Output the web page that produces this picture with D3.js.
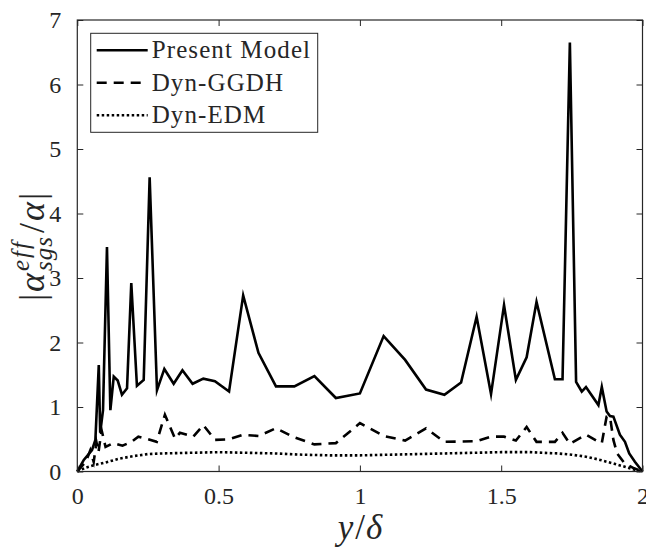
<!DOCTYPE html>
<html>
<head>
<meta charset="utf-8">
<script src="https://cdn.jsdelivr.net/npm/d3@7"></script>
<style>
  body { margin: 0; background: #fff; }
  svg { display: block; }
  text { font-family: "Liberation Serif", "DejaVu Serif", serif; fill: #262626; }
</style>
</head>
<body>
<div id="chart"></div>
<script>
// ── Data ─────────────────────────────────────────────────────
const presentX = [0, 0.023, 0.052, 0.064, 0.076, 0.081, 0.091, 0.105, 0.117, 0.129, 0.143, 0.158, 0.176, 0.191, 0.211, 0.235, 0.256, 0.282, 0.308, 0.341, 0.372, 0.408, 0.446, 0.487, 0.537, 0.587, 0.641, 0.703, 0.768, 0.839, 0.915, 1.0, 1.084, 1.16, 1.234, 1.299, 1.358, 1.413, 1.464, 1.51, 1.552, 1.59, 1.625, 1.69, 1.717, 1.743, 1.765, 1.785, 1.8, 1.844, 1.856, 1.873, 1.885, 1.897, 1.92, 1.938, 1.953, 1.973, 2.0];
const presentY = [0, 0.18, 0.33, 0.49, 1.65, 0.6, 0.95, 3.48, 0.95, 1.47, 1.41, 1.19, 1.29, 2.92, 1.33, 1.42, 4.56, 1.26, 1.59, 1.36, 1.57, 1.36, 1.44, 1.40, 1.24, 2.73, 1.84, 1.32, 1.32, 1.48, 1.14, 1.21, 2.10, 1.73, 1.27, 1.19, 1.38, 2.40, 1.20, 2.58, 1.42, 1.77, 2.63, 1.43, 1.43, 6.65, 1.39, 1.24, 1.31, 1.03, 1.31, 0.93, 0.86, 0.85, 0.57, 0.46, 0.28, 0.15, 0];

const ggdhX = [0, 0.03, 0.046, 0.058, 0.068, 0.075, 0.086, 0.1, 0.128, 0.16, 0.192, 0.216, 0.25, 0.281, 0.31, 0.346, 0.363, 0.41, 0.446, 0.487, 0.537, 0.587, 0.641, 0.703, 0.768, 0.839, 0.915, 1.0, 1.085, 1.16, 1.234, 1.299, 1.413, 1.464, 1.51, 1.552, 1.59, 1.625, 1.69, 1.717, 1.743, 1.8, 1.844, 1.856, 1.873, 1.885, 1.897, 1.91, 1.936, 1.97, 2.0];
const ggdhY = [0, 0.15, 0.33, 0.15, 0.45, 0.3, 0.64, 0.38, 0.44, 0.4, 0.46, 0.54, 0.5, 0.46, 0.88, 0.51, 0.6, 0.54, 0.72, 0.49, 0.5, 0.57, 0.55, 0.67, 0.53, 0.42, 0.44, 0.75, 0.55, 0.48, 0.67, 0.46, 0.47, 0.54, 0.54, 0.48, 0.69, 0.46, 0.46, 0.6, 0.43, 0.57, 0.46, 0.44, 0.85, 0.85, 0.49, 0.28, 0.13, 0.05, 0];

const edmX = [0, 0.03, 0.06, 0.1, 0.15, 0.2, 0.25, 0.3, 0.4, 0.5, 0.6, 0.7, 0.8, 0.9, 1.0, 1.1, 1.2, 1.3, 1.4, 1.5, 1.6, 1.7, 1.75, 1.8, 1.85, 1.9, 1.94, 1.97, 2.0];
const edmY = [0, 0.06, 0.1, 0.14, 0.2, 0.24, 0.27, 0.28, 0.29, 0.3, 0.29, 0.28, 0.26, 0.25, 0.25, 0.26, 0.27, 0.28, 0.29, 0.3, 0.3, 0.28, 0.26, 0.23, 0.18, 0.12, 0.07, 0.03, 0];

const xTicks = [0, 0.5, 1, 1.5, 2];
const xTickLabels = ['0', '0.5', '1', '1.5', '2'];
const yTicks = [0, 1, 2, 3, 4, 5, 6, 7];

const seriesNames = ['Present Model', 'Dyn-GGDH', 'Dyn-EDM'];
const seriesDash = ['none', '10 7', '2.5 2.5'];

// ── Layout ───────────────────────────────────────────────────
const W = 646, H = 547;
const margin = { top: 20, right: 3.5, bottom: 75.5, left: 77.3 };
const width = W - margin.left - margin.right;
const height = H - margin.top - margin.bottom;
const axisColor = '#262626';

const svg = d3.select('#chart').append('svg')
  .attr('width', W).attr('height', H);

const g = svg.append('g')
  .attr('transform', `translate(${margin.left},${margin.top})`);

const x = d3.scaleLinear().domain([0, 2]).range([0, width]);
const y = d3.scaleLinear().domain([0, 7]).range([height, 0]);

// ── Data lines ───────────────────────────────────────────────
const line = d3.line().x(d => x(d[0])).y(d => y(d[1]));
const series = [
  d3.zip(presentX, presentY),
  d3.zip(ggdhX, ggdhY),
  d3.zip(edmX, edmY)
];

series.forEach((pts, i) => {
  g.append('path')
    .datum(pts)
    .attr('d', line)
    .attr('fill', 'none')
    .attr('stroke', '#000')
    .attr('stroke-width', 2.6)
    .attr('stroke-linejoin', 'miter')
    .attr('stroke-miterlimit', 10)
    .attr('stroke-dasharray', seriesDash[i]);
});

// ── Axes (box with inward ticks, mirrored) ──────────────────
const tickLen = 6;
const axisStyle = sel => {
  sel.select('.domain').remove();
  sel.selectAll('line').attr('stroke', axisColor).attr('stroke-width', 1);
  sel.selectAll('text').attr('font-size', 24).attr('fill', axisColor)
    .style('font-family', '"Liberation Serif", serif');
};

g.append('g')
  .attr('transform', `translate(0,${height})`)
  .call(d3.axisBottom(x).tickValues(xTicks)
    .tickFormat((d, i) => xTickLabels[i])
    .tickSizeInner(-tickLen).tickSizeOuter(0).tickPadding(15))
  .call(axisStyle)
  .call(s => s.selectAll('text').attr('dy', '0.71em'));

g.append('g')
  .call(d3.axisTop(x).tickValues(xTicks).tickFormat('')
    .tickSizeInner(-tickLen).tickSizeOuter(0))
  .call(axisStyle);

g.append('g')
  .call(d3.axisLeft(y).tickValues(yTicks).tickFormat(d3.format('d'))
    .tickSizeInner(-tickLen).tickSizeOuter(0).tickPadding(16))
  .call(axisStyle);

g.append('g')
  .attr('transform', `translate(${width},0)`)
  .call(d3.axisRight(y).tickValues(yTicks).tickFormat('')
    .tickSizeInner(-tickLen).tickSizeOuter(0))
  .call(axisStyle);

g.append('rect')
  .attr('width', width).attr('height', height)
  .attr('fill', 'none').attr('stroke', axisColor).attr('stroke-width', 1.2);

// ── Legend ───────────────────────────────────────────────────
const legend = g.append('g').attr('transform', `translate(${90.7 - margin.left},${33.3 - margin.top})`);
legend.append('rect')
  .attr('width', 227).attr('height', 99)
  .attr('fill', '#fff').attr('stroke', axisColor).attr('stroke-width', 1);

seriesNames.forEach((name, i) => {
  const cy = 17 + i * 32.5;
  legend.append('line')
    .attr('x1', 6).attr('x2', 57).attr('y1', cy).attr('y2', cy)
    .attr('stroke', '#000').attr('stroke-width', 2.6)
    .attr('stroke-dasharray', seriesDash[i]);
  legend.append('text')
    .attr('x', 61).attr('y', cy + 8)
    .attr('font-size', 25).attr('letter-spacing', 1.1).attr('fill', '#000')
    .text(name);
});

// ── Axis labels ──────────────────────────────────────────────
const xl = svg.append('text')
  .attr('x', 360).attr('y', 539)
  .attr('text-anchor', 'middle')
  .attr('font-size', 35).attr('fill', '#000');
xl.append('tspan').attr('font-style', 'italic').text('y');
xl.append('tspan').attr('dx', 2).text('/');
xl.append('tspan').attr('font-style', 'italic').attr('dx', 1).text('δ');

const yl = svg.append('text')
  .attr('transform', 'translate(44,247) rotate(-90)')
  .attr('text-anchor', 'middle')
  .attr('font-size', 36).attr('fill', '#000');
yl.append('tspan').text('|');
yl.append('tspan').attr('font-style', 'italic').attr('dx', 2).text('α');
const sup = yl.append('tspan').attr('font-style', 'italic')
  .attr('font-size', 25).attr('letter-spacing', 2).attr('dx', 2).attr('dy', -15).text('eff');
const supLen = sup.node().getComputedTextLength();
const sub = yl.append('tspan').attr('font-style', 'italic')
  .attr('font-size', 25).attr('letter-spacing', 1).attr('dx', -supLen).attr('dy', 23).text('sgs');
const subLen = sub.node().getComputedTextLength();
yl.append('tspan').attr('dx', Math.max(0, supLen - subLen) + 3).attr('dy', -8).text('/');
yl.append('tspan').attr('font-style', 'italic').attr('dx', 2).text('α');
yl.append('tspan').attr('dx', 2).text('|');
</script>
</body>
</html>
